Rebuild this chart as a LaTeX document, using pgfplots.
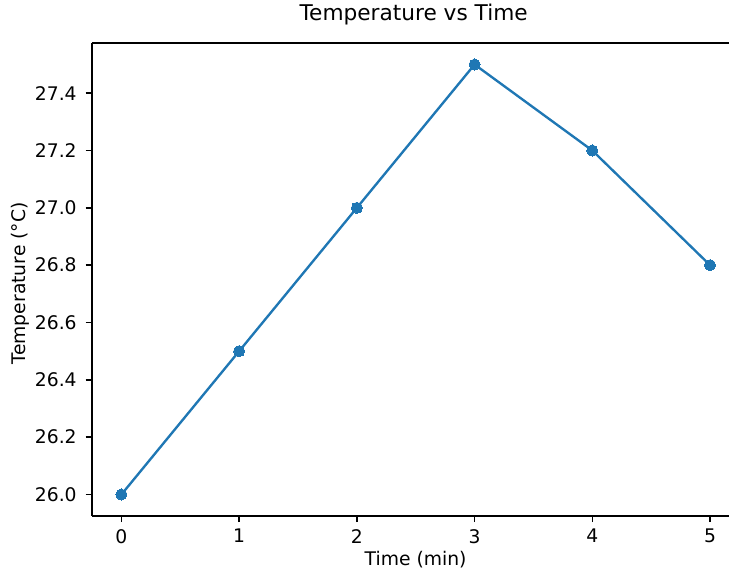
\documentclass[border=0pt]{standalone}
\usepackage{pgfplots}
\pgfplotsset{compat=1.18}
\usepackage{fontspec}
\setmainfont{DejaVu Sans}
\definecolor{mplblue}{HTML}{1F77B4}
\begin{document}
\begin{tikzpicture}
\begin{axis}[
  name=ax,
  at={(0,0)}, anchor=south west,
  scale only axis,
  width=458.64pt, height=340.56pt,
  xmin=-0.25, xmax=5.1613,
  ymin=25.925, ymax=27.575,
  axis x line*=box,
  axis y line*=left,
  axis line style={line width=1pt, black, -},
  xtick={0,1,2,3,4,5},
  ytick={26.0,26.2,26.4,26.6,26.8,27.0,27.2,27.4},
  xtick pos=bottom, ytick pos=left,
  tick align=outside,
  major tick length=4.5pt,
  every tick/.style={black, line width=1pt},
  minor tick num=0,
  /pgf/number format/assume math mode=true,
  yticklabel style={/pgf/number format/fixed, /pgf/number format/fixed zerofill, /pgf/number format/precision=1, xshift=-3pt},
  xticklabel style={/pgf/number format/fixed, /pgf/number format/precision=0, yshift=-1.5pt},
  tick label style={font=\fontsize{13.5}{16}\selectfont},
  title={Temperature vs Time},
  title style={font=\fontsize{15.6}{18}\selectfont, at={(axis description cs:0.505,1)}, anchor=base, yshift=10pt},
  xlabel={Time (min)},
  xlabel style={font=\fontsize{13.5}{16}\selectfont, at={(axis description cs:0.508,0)}, anchor=base, yshift=-36pt},
  ylabel={Temperature (°C)},
  ylabel style={font=\fontsize{13.5}{16}\selectfont, at={(axis description cs:-0.105,0.492)}, anchor=base},
  clip=false,
]
\addplot[mplblue, line width=1.7pt, mark=*, mark size=4pt, mark options={solid, fill=mplblue, draw=mplblue, line width=0pt}]
  coordinates {(0,26.0) (1,26.5) (2,27.0) (3,27.5) (4,27.2) (5,26.8)};
\end{axis}
\pgfresetboundingbox
\path (-66.24pt,-39.6pt) rectangle (458.64pt,371.52pt);
\end{tikzpicture}
\end{document}
